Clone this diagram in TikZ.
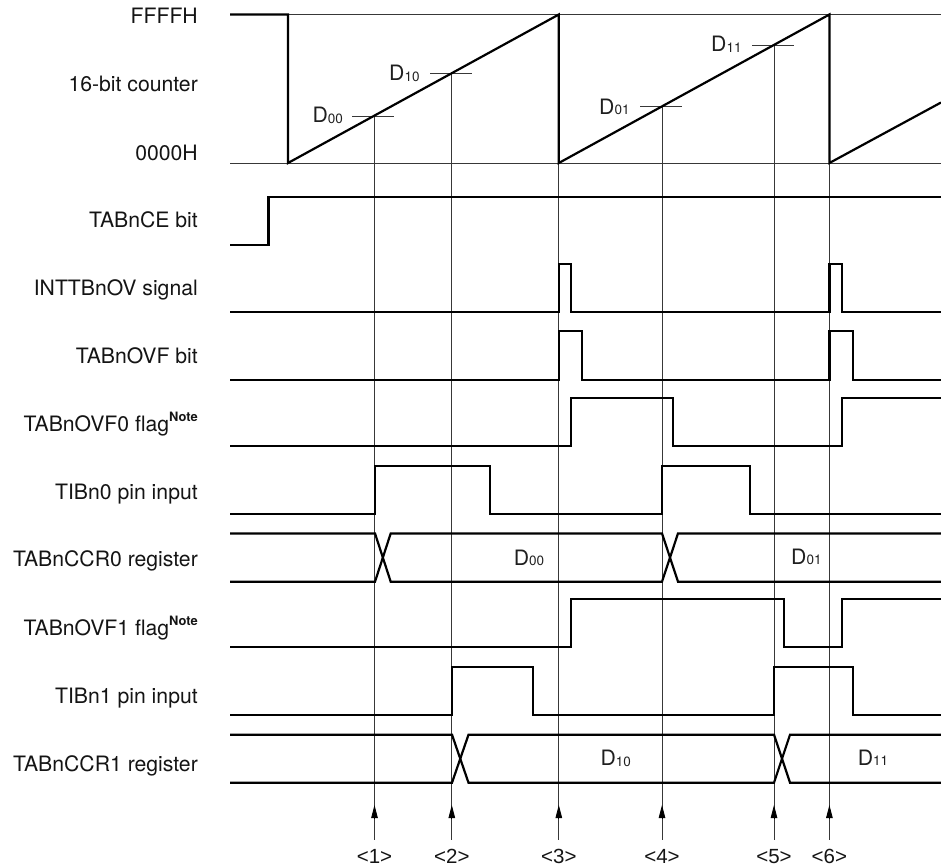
\documentclass[tikz,border=0pt]{standalone}
\usepackage{fontspec}
\setmainfont{TeX Gyre Heros}
\newfontfamily\evfont{Liberation Sans}
\usetikzlibrary{arrows.meta}
\newcommand{\dval}[1]{D\raisebox{-0.8pt}{\fontsize{13.5}{15}\selectfont #1}}
\newcommand{\notemark}{\raisebox{10pt}{\fontsize{12.9}{14}\selectfont\bfseries Note}}
\tikzset{
  wave/.style={line width=2.2pt,black,line join=miter,line cap=butt},
  guide/.style={line width=0.9pt,black!78},
  rowlabel/.style={anchor=base east,inner sep=0pt,font=\fontsize{21.2}{24}\selectfont,text=black!92},
  val/.style={anchor=base west,inner sep=0pt,font=\fontsize{21.2}{24}\selectfont,text=black!88},
  evlabel/.style={anchor=base,inner sep=0pt,font=\evfont\fontsize{20.5}{24}\selectfont,text=black!92},
  evarrow/.style={line width=0.9pt,black,-{Triangle[length=13pt,width=6.5pt]}}
}
\begin{document}
\begin{tikzpicture}[x=1pt,y=-1pt]
\useasboundingbox (0,0) rectangle (941,867);
% level lines
\draw[guide] (288,14.5) -- (941,14.5);
\draw[guide] (230,163) -- (941,163);
% event guide lines
\foreach \n/\ex/\etop in {1/374.5/116,2/451.8/73,3/558.8/163,4/662/106.7,5/774/45,6/829.4/163}{
  \coordinate (evtop\n) at (\ex,\etop);
  \coordinate (evtail\n) at (\ex,839.5);
  \coordinate (evmid\n) at (\ex,818);
  \coordinate (evtip\n) at (\ex,805);
  \draw[guide] (evtop\n) -- (evtail\n);
  \draw[evarrow] (evmid\n) -- (evtip\n);
  \node[evlabel] (evlab\n) at (\ex,863) {<\n>};
}
% capture ticks
\draw[guide] (352,116) -- (394,116);
\draw[guide] (430,73) -- (471.7,73);
\draw[guide] (640,106.7) -- (682,106.7);
\draw[guide] (752,45) -- (794,45);
% counter
\draw[wave] (230,14.5) -- (288,14.5) -- (288,163) -- (558.8,14.5) -- (558.8,163) -- (829.4,14.5) -- (829.4,163) -- (941,102.5);
% TABnCE
\draw[wave] (230,244.7) -- (268.5,244.7) -- (268.5,197) -- (941,197);
% INTTBnOV
\draw[wave] (230,312) -- (558.8,312) -- (558.8,263.7) -- (570.7,263.7) -- (570.7,312) -- (829.4,312) -- (829.4,263.7) -- (841.6,263.7) -- (841.6,312) -- (941,312);
% TABnOVF
\draw[wave] (230,379.7) -- (558.8,379.7) -- (558.8,331.3) -- (582.3,331.3) -- (582.3,379.7) -- (829.4,379.7) -- (829.4,331.3) -- (853.3,331.3) -- (853.3,379.7) -- (941,379.7);
% TABnOVF0
\draw[wave] (230,446) -- (570.7,446) -- (570.7,398.3) -- (673.3,398.3) -- (673.3,446) -- (841.6,446) -- (841.6,398.3) -- (941,398.3);
% TIBn0
\draw[wave] (230,514) -- (375,514) -- (375,465.8) -- (490,465.8) -- (490,514) -- (662,514) -- (662,465.8) -- (750,465.8) -- (750,514) -- (941,514);
% TABnCCR0
\draw[wave] (230,533.4) -- (375,533.4) -- (390.7,581.7) -- (662,581.7) -- (678,533.4) -- (941,533.4);
\draw[wave] (230,581.7) -- (375,581.7) -- (390.7,533.4) -- (662,533.4) -- (678,581.7) -- (941,581.7);
% TABnOVF1
\draw[wave] (230,647.3) -- (570.7,647.3) -- (570.7,599.3) -- (784.3,599.3) -- (784.3,647.3) -- (841.6,647.3) -- (841.6,599.3) -- (941,599.3);
% TIBn1
\draw[wave] (230,715.3) -- (452,715.3) -- (452,667.3) -- (532.7,667.3) -- (532.7,715.3) -- (774,715.3) -- (774,667.3) -- (852.7,667.3) -- (852.7,715.3) -- (941,715.3);
% TABnCCR1
\draw[wave] (230,734.7) -- (452,734.7) -- (468.5,782.7) -- (774,782.7) -- (790,734.7) -- (941,734.7);
\draw[wave] (230,782.7) -- (452,782.7) -- (468.5,734.7) -- (774,734.7) -- (790,782.7) -- (941,782.7);
% row labels
\node[rowlabel] (lffff) at (198,23.3) {FFFFH};
\node[rowlabel] (lcnt) at (198,91.7) {16-bit counter};
\node[rowlabel] (lzero) at (198,160) {0000H};
\node[rowlabel] (lce) at (198,227.7) {TABnCE bit};
\node[rowlabel] (lint) at (198,295.7) {INTTBnOV signal};
\node[rowlabel] (lovf) at (198,363.3) {TABnOVF bit};
\node[rowlabel] (lovfa) at (198,431.7) {TABnOVF0 flag\notemark};
\node[rowlabel] (ltia) at (198,499) {TIBn0 pin input};
\node[rowlabel] (lcca) at (198,566.7) {TABnCCR0 register};
\node[rowlabel] (lovfb) at (198,635) {TABnOVF1 flag\notemark};
\node[rowlabel] (ltib) at (198,703.3) {TIBn1 pin input};
\node[rowlabel] (lccb) at (198,771) {TABnCCR1 register};
% values
\node[val] (vaa) at (312.3,122.7) {\dval{00}};
\node[val] (vba) at (389,80.7) {\dval{10}};
\node[val] (vab) at (599,114) {\dval{01}};
\node[val] (vbb) at (711,51.7) {\dval{11}};
\node[val] (raa) at (513.6,565) {\dval{00}};
\node[val] (rab) at (791,564) {\dval{01}};
\node[val] (rba) at (600.3,765.7) {\dval{10}};
\node[val] (rbb) at (857.6,765) {\dval{11}};
\end{tikzpicture}
\end{document}
